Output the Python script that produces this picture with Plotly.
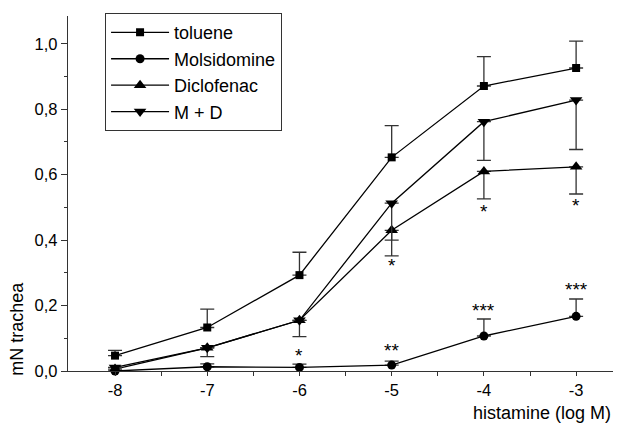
import plotly.graph_objects as go

dose = [-8, -7, -6, -5, -4, -3]

toluene = [0.047, 0.133, 0.293, 0.653, 0.871, 0.926]
toluene_err_up = [0.016, 0.056, 0.070, 0.097, 0.090, 0.082]

molsidomine = [0.0, 0.013, 0.011, 0.018, 0.107, 0.167]
molsidomine_err_up = [0.0, 0.009, 0.010, 0.012, 0.052, 0.053]

diclofenac = [0.006, 0.071, 0.155, 0.430, 0.610, 0.624]
diclofenac_err_dn = [0.0, 0.0, 0.0, 0.078, 0.084, 0.083]

md = [0.011, 0.071, 0.155, 0.513, 0.762, 0.828]
md_err_dn = [0.0, 0.027, 0.050, 0.113, 0.118, 0.151]

star_x = [-6, -5, -4, -3, -5, -4, -3]
star_y = [0.047, 0.063, 0.186, 0.249, 0.322, 0.488, 0.505]
star_text = ["*", "**", "***", "***", "*", "*", "*"]

FONT = "Liberation Sans, Arial, sans-serif"
ERRC = "#333333"

fig = go.Figure()

def add(name, y, symbol, size, up=None, dn=None):
    ey = None
    if up is not None:
        ey = dict(type="data", symmetric=False, array=up, arrayminus=[0]*len(up),
                  color=ERRC, thickness=1.3, width=7)
    if dn is not None:
        ey = dict(type="data", symmetric=False, array=[0]*len(dn), arrayminus=dn,
                  color=ERRC, thickness=1.3, width=7)
    fig.add_trace(go.Scatter(
        x=dose, y=y, name=name, mode="lines+markers", legendgroup=name,
        line=dict(color="black", width=1.3),
        marker=dict(symbol=symbol, size=size, color="black"),
        error_y=ey, cliponaxis=False))

add("toluene", toluene, "square", 8, up=toluene_err_up)
add("Molsidomine", molsidomine, "circle", 9, up=molsidomine_err_up)
add("Diclofenac", diclofenac, "triangle-up", 11, dn=diclofenac_err_dn)
add("M + D", md, "triangle-down", 11, dn=md_err_dn)

for x, y, t in zip(star_x, star_y, star_text):
    fig.add_annotation(x=x, y=y, text=t, showarrow=False, xref="x", yref="y",
                       font=dict(family=FONT, size=19, color="black"),
                       yanchor="middle")

fig.add_annotation(text="histamine (log M)", xref="paper", yref="paper",
                   x=1.0, y=-0.117, xanchor="right", yanchor="middle",
                   showarrow=False, font=dict(family=FONT, size=18, color="black"))
fig.add_annotation(text="mN trachea", xref="paper", yref="paper",
                   x=-0.093, y=0.12, xanchor="center", yanchor="middle",
                   textangle=-90, showarrow=False,
                   font=dict(family=FONT, size=18, color="black"))

fig.update_layout(
    width=618, height=430,
    margin=dict(l=68, r=5, t=16, b=59),
    paper_bgcolor="white", plot_bgcolor="white",
    separators=",.",
    font=dict(family=FONT, size=16, color="black"),
    showlegend=True,
    legend=dict(x=0.068, y=1.008, xanchor="left", yanchor="top",
                bordercolor="#333333", borderwidth=1, bgcolor="white",
                font=dict(family=FONT, size=18, color="black"),
                tracegroupgap=0, itemwidth=58,
                entrywidth=180, entrywidthmode="pixels"),
    xaxis=dict(range=[-8.51, -2.6], showgrid=False, zeroline=False,
               showline=True, linecolor="#333333", linewidth=1.3,
               tickmode="array", tickvals=dose, ticktext=[str(d) for d in dose],
               ticks="outside", ticklen=4, tickwidth=1.2, tickcolor="#333333",
               minor=dict(tickvals=[-7.5, -6.5, -5.5, -4.5, -3.5], ticks="outside",
                          ticklen=4, tickwidth=1.2, tickcolor="#333333"),
               tickfont=dict(family=FONT, size=16.5)),
    yaxis=dict(range=[0, 1.085], showgrid=False, zeroline=False,
               showline=True, linecolor="#333333", linewidth=1.3,
               tickvals=[0, 0.2, 0.4, 0.6, 0.8, 1.0], tickformat=".1f",
               ticks="outside", ticklen=6, tickwidth=1.2, tickcolor="#333333",
               minor=dict(tickvals=[0.1, 0.3, 0.5, 0.7, 0.9], ticks="outside",
                          ticklen=3, tickwidth=1.2, tickcolor="#333333"),
               tickfont=dict(family=FONT, size=16.5)),
)

fig.write_html("out.html", config={"displayModeBar": False},
               post_script="document.body.style.margin='0';document.body.style.padding='0';")
